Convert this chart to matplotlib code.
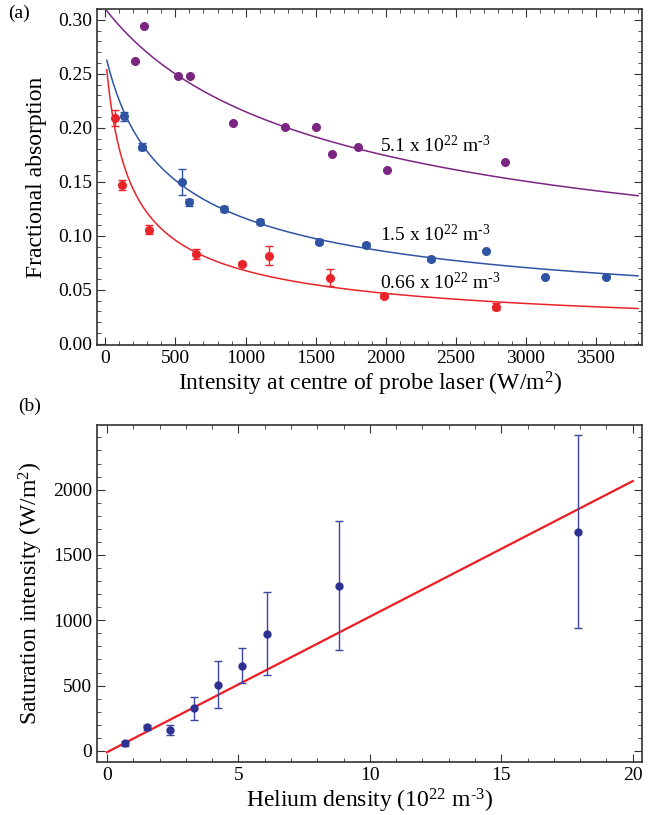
import numpy as np
import matplotlib
matplotlib.use("Agg")
import matplotlib.pyplot as plt
from matplotlib.ticker import MultipleLocator

plt.rcParams['font.family'] = ['Liberation Serif', 'DejaVu Serif']
plt.rcParams['mathtext.fontset'] = 'custom'
plt.rcParams['mathtext.rm'] = 'Liberation Serif'
plt.rcParams['mathtext.it'] = 'Liberation Serif:italic'

# panel (a): fractional absorption vs intensity
purple_x = [212, 273, 521, 602, 909, 1279, 1505, 1619, 1805, 2009, 2852]
purple_y = [0.262, 0.294, 0.2475, 0.248, 0.204, 0.2006, 0.201, 0.1756, 0.1827, 0.161, 0.1688]

blue_x = [136, 262, 550, 593, 845, 1105, 1524, 1862, 2326, 2714, 3138, 3571]
blue_y = [0.2105, 0.1827, 0.150, 0.131, 0.1247, 0.1132, 0.0947, 0.0914, 0.0784, 0.0864, 0.0623, 0.0623]
blue_err = [0.004, 0.003, 0.012, 0.003, 0.003, 0.002, 0.002, 0.002, 0.002, 0.0, 0.0, 0.0]

red_x = [69, 121, 310, 648, 974, 1164, 1600, 1986, 2790]
red_y = [0.209, 0.147, 0.1056, 0.083, 0.0738, 0.0815, 0.0614, 0.0444, 0.0345]
red_err = [0.0074, 0.005, 0.0043, 0.0046, 0.002, 0.0088, 0.0077, 0.002, 0.0034]

# fit parameters a = A / (1 + I/Isat)^p
fits = {
    'purple': (0.31, 925, 0.5),
    'blue': (0.268, 250, 0.52),
    'red': (0.268, 100, 0.5735),
}
labels_a = ['5.1 x 10$^{22}$ m$^{\\text{-3}}$', '1.5 x 10$^{22}$ m$^{\\text{-3}}$',
            '0.66 x 10$^{22}$ m$^{\\text{-3}}$']
label_y = [0.184, 0.101, 0.0565]

# panel (b): saturation intensity vs helium density
dens = [0.70, 1.51, 2.40, 3.32, 4.21, 5.13, 6.07, 8.81, 17.93]
isat = [59, 181, 161, 326, 508, 653, 898, 1265, 1678]
isat_err = [20, 20, 37, 89, 183, 135, 315, 492, 738]
line_slope = 103.8
line_icpt = -10

c_purple = '#7B2583'
c_blue = '#2F54A3'
c_red = '#E8242A'

fig = plt.figure(figsize=(6.53, 8.15), dpi=100)
ax1 = fig.add_axes([0.1485, 0.5767, 0.835, 0.4123])
ax2 = fig.add_axes([0.1485, 0.065, 0.835, 0.4135])

xx = np.linspace(10, 3800, 400)
for name, col in [('purple', c_purple), ('blue', c_blue), ('red', c_red)]:
    A, Is, p = fits[name]
    ax1.plot(xx, A / (1 + xx / Is) ** p, color=col, lw=1.1)

ax1.plot(purple_x, purple_y, 'o', color=c_purple, ms=5.5)
ax1.errorbar(blue_x, blue_y, yerr=blue_err, fmt='o', color=c_blue, ms=5.5,
             capsize=3, elinewidth=1, capthick=1)
ax1.errorbar(red_x, red_y, yerr=red_err, fmt='o', color=c_red, ms=5.5,
             capsize=3, elinewidth=1, capthick=1)

for lab, ly in zip(labels_a, label_y):
    ax1.text(1960, ly, lab, fontsize=14, va='center', ha='left')

ax1.set_xlim(-60, 3830)
ax1.set_ylim(-0.001, 0.31)
ax1.xaxis.set_major_locator(MultipleLocator(500))
ax1.xaxis.set_minor_locator(MultipleLocator(100))
ax1.yaxis.set_major_locator(MultipleLocator(0.05))
ax1.yaxis.set_minor_locator(MultipleLocator(0.01))
ax1.yaxis.set_major_formatter(matplotlib.ticker.FormatStrFormatter('%.2f'))
ax1.set_xlabel('Intensity at centre of probe laser (W/m$^{2}$)', fontsize=17, labelpad=2)
ax1.set_ylabel('Fractional absorption', fontsize=17, labelpad=8)

dd = np.linspace(0, 20, 50)
ax2.plot(dd, line_icpt + line_slope * dd, color='#EE1D23', lw=1.6)
ax2.errorbar(dens, isat, yerr=isat_err, fmt='o', color='#2E3192', ecolor='#3D46A0',
             ms=5, capsize=3, elinewidth=1, capthick=1)
ax2.set_xlim(-0.38, 20.36)
ax2.set_ylim(-85, 2495)
ax2.xaxis.set_major_locator(MultipleLocator(5))
ax2.xaxis.set_minor_locator(MultipleLocator(1))
ax2.yaxis.set_major_locator(MultipleLocator(500))
ax2.yaxis.set_minor_locator(MultipleLocator(100))
ax2.set_xlabel('Helium density (10$^{22}$ m$^{\\text{-3}}$)', fontsize=17, labelpad=2)
ax2.set_ylabel('Saturation intensity (W/m$^{2}$)', fontsize=17, labelpad=6)

for ax in (ax1, ax2):
    ax.tick_params(which='both', direction='in', top=True, right=True, labelsize=14,
                   color='#333333')
    ax.tick_params(which='major', length=6)
    ax.tick_params(which='minor', length=3)
    for s in ax.spines.values():
        s.set_linewidth(1.2)
        s.set_color('#333333')

fig.text(0.012, 0.978, '(a)', fontsize=14)
fig.text(0.027, 0.496, '(b)', fontsize=14)

fig.savefig('out.png', dpi=100)
